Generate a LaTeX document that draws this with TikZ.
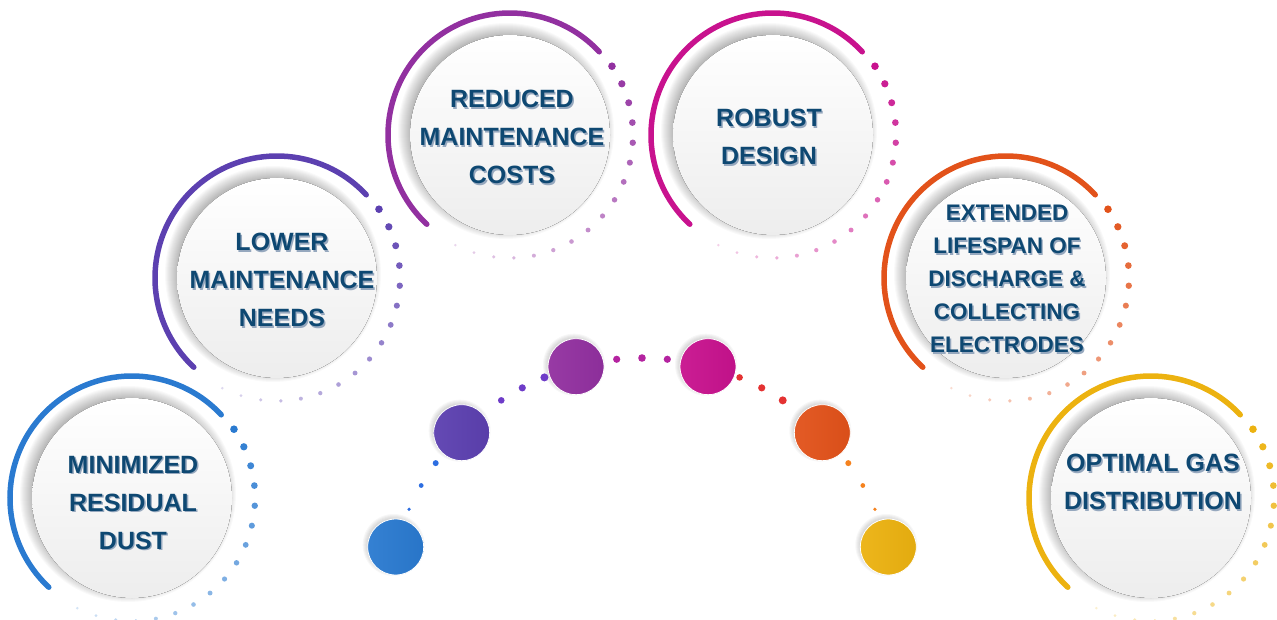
\documentclass[tikz,border=0pt]{standalone}
\usepackage{fontspec}
\setmainfont{Liberation Sans}
\usetikzlibrary{calc}

\definecolor{cblue}{RGB}{42,122,208}
\definecolor{cviolet}{RGB}{92,64,176}
\definecolor{cpurple}{RGB}{146,48,160}
\definecolor{cmagenta}{RGB}{200,18,142}
\definecolor{corange}{RGB}{226,82,26}
\definecolor{cyellow}{RGB}{236,178,16}
\definecolor{dotblue}{RGB}{45,110,225}
\definecolor{dotviolet}{RGB}{110,60,200}
\definecolor{dotpurple}{RGB}{180,35,160}
\definecolor{dotred}{RGB}{228,50,50}
\definecolor{dotorange}{RGB}{245,130,30}
\definecolor{txtblue}{RGB}{14,72,114}
\definecolor{txtshadow}{RGB}{150,168,190}

\tikzset{ring/.style = {line width = 5.5, line cap = round}}
\tikzset{disc/.style = {top color = white, bottom color = black!7}}
\tikzset{knob/.style = {circle, inner sep = 0, minimum size = 56, draw = white, line width = 0.8}}
\tikzset{lbl/.style = {text = txtblue, align = center, font = \bfseries\fontsize{25}{38}\selectfont}}
\tikzset{lblsmall/.style = {lbl, font = \bfseries\fontsize{22.5}{33}\selectfont}}

\begin{document}
\begin{tikzpicture}[x = 1pt, y = 1pt]
    \useasboundingbox (0,0) rectangle (1277,619);
    % centres of the badges and of the small arc
    \coordinate (u1) at (132,121);
    \coordinate (u2) at (277,341);
    \coordinate (u3) at (510,484);
    \coordinate (u4) at (773,484);
    \coordinate (u5) at (1006,341);
    \coordinate (u6) at (1151,121);
    \coordinate (hub) at (642,6);

    % badges: shadow, disc, arc and fading dots
    \foreach \u/\col in {u1/cblue, u2/cviolet, u3/cpurple, u4/cmagenta, u5/corange, u6/cyellow} {
        \foreach \k in {0,...,12}
            \fill [black, opacity = 0.022] ($(\u)+(-4,4)$) circle [radius = 96+\k];
        \fill [disc] (\u) circle [radius = 100];
        \draw [ring, \col] ($(\u)+(43:122)$) arc [start angle = 43, end angle = 227, radius = 122];
        \foreach \i [evaluate = \i as \ang using 34-9.4*\i,
                     evaluate = \i as \rad using 3.8-0.15*\i,
                     evaluate = \i as \op using 1-0.05*\i] in {0,...,16}
            \fill [\col, opacity = \op] ($(\u)+(\ang:123)$) circle [radius = \rad];
    }

    % small knobs on the inner arc
    \foreach \n/\ang/\col in {1/165/cblue, 2/135/cviolet, 3/105/cpurple, 4/75/cmagenta, 5/45/corange, 6/15/cyellow} {
        \foreach \k in {0,...,5}
            \fill [black, opacity = 0.03] ($(hub)+(\ang:255)+(-2,2)$) circle [radius = 26+\k];
        \node [knob, left color = \col!95!white, right color = \col!96!black] (k\n) at ($(hub)+(\ang:255)$) {};
    }
    \foreach \ang/\rad/\col in {24/1.8/dotorange, 30/2.4/dotorange, 36/3/dotorange,
                                56.5/4/dotred, 62/3.6/dotred, 67.5/3.3/dotred,
                                84.3/3.6/dotpurple, 90/3.8/dotpurple, 95.7/3.6/dotpurple,
                                112.5/4/dotviolet, 118/3.6/dotviolet, 123.5/3.3/dotviolet,
                                144/3/dotblue, 150/2.4/dotblue, 156/1.8/dotblue}
        \fill [\col] ($(hub)+(\ang:255)$) circle [radius = \rad];

    % labels
    \node [lbl, text = txtshadow] (s1) at (134.4,114.6) {MINIMIZED\\RESIDUAL\\DUST};
    \node [lbl] (t1) at (133,116) {MINIMIZED\\RESIDUAL\\DUST};
    \node [lbl, text = txtshadow] (s2) at (283.4,337.6) {LOWER\\MAINTENANCE\\NEEDS};
    \node [lbl] (t2) at (282,339) {LOWER\\MAINTENANCE\\NEEDS};
    \node [lbl, text = txtshadow] (s3) at (513.4,480.6) {REDUCED\\MAINTENANCE\\COSTS};
    \node [lbl] (t3) at (512,482) {REDUCED\\MAINTENANCE\\COSTS};
    \node [lbl, text = txtshadow] (s4) at (770.4,480.6) {ROBUST\\DESIGN};
    \node [lbl] (t4) at (769,482) {ROBUST\\DESIGN};
    \node [lblsmall, text = txtshadow] (s5) at (1008.4,338.6) {EXTENDED\\LIFESPAN OF\\DISCHARGE \&\\COLLECTING\\ELECTRODES};
    \node [lblsmall] (t5) at (1007,340) {EXTENDED\\LIFESPAN OF\\DISCHARGE \&\\COLLECTING\\ELECTRODES};
    \node [lbl, text = txtshadow] (s6) at (1154.4,135.6) {OPTIMAL GAS\\DISTRIBUTION};
    \node [lbl] (t6) at (1153,137) {OPTIMAL GAS\\DISTRIBUTION};
\end{tikzpicture}
\end{document}
